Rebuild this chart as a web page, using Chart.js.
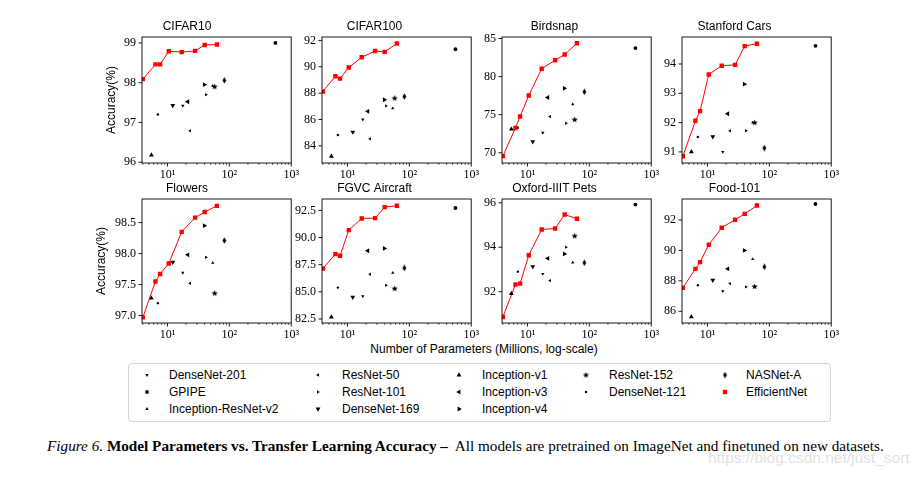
<!DOCTYPE html>
<html>
<head>
<meta charset="utf-8">
<script src="https://cdn.jsdelivr.net/npm/chart.js@4.4.1/dist/chart.umd.min.js"></script>
<style>
  body { margin: 0; width: 923px; height: 477px; background: #fff; position: relative; overflow: hidden; font-family: "Liberation Sans", Arial, sans-serif; }
  canvas.panel { position: absolute; }
  #xlabel { position: absolute; left: 0; width: 968px; top: 342px; text-align: center; font-size: 12px; color: #000; }
  #legend { position: absolute; left: 128px; top: 363px; width: 701px; height: 57px; border: 1px solid #d4d4d4; border-radius: 4px; }
  .lg-mark { position: absolute; }
  .lg-text { position: absolute; font-size: 12px; line-height: 14px; color: #000; white-space: nowrap; }
  #caption { position: absolute; left: 47px; top: 437px; font-family: "Liberation Serif", "Times New Roman", serif; font-size: 13px; color: #000; white-space: nowrap; }
  #caption b { font-weight: bold; }
  #mark { position: absolute; left: 708px; top: 449px; font-size: 15.5px; color: #e2e2e2; white-space: nowrap; }
</style>
</head>
<body>
<div id="xlabel">Number of Parameters (Millions, log-scale)</div>
<div id="legend"></div>
<div id="caption"><i>Figure 6.</i> <b>Model Parameters vs. Transfer Learning Accuracy –</b>&nbsp; All models are pretrained on ImageNet and finetuned on new datasets.</div>
<div id="mark">https://blog.csdn.net/just_sort</div>
<script>
// models (legend order) and their parameter counts in millions
const models = ["DenseNet-201", "GPIPE", "Inception-ResNet-v2", "ResNet-50", "ResNet-101", "DenseNet-169",
                "Inception-v1", "Inception-v3", "Inception-v4", "ResNet-152", "DenseNet-121", "NASNet-A"];
const modelParams = [17.7, 556, 54, 23.2, 42, 12.2, 5.5, 21.3, 39.5, 58, 7, 83];
const effParams = [4.0, 6.4, 7.6, 10.5, 17, 28, 40, 63];

const datasetNames = ["CIFAR10", "CIFAR100", "Birdsnap", "Stanford Cars", "Flowers", "FGVC Aircraft", "Oxford-IIIT Pets", "Food-101"];

// accuracy per model, same order as models
const accCifar10  = [97.42, 99.0, 97.92, 96.79, 97.7, 97.43, 96.18, 97.52, 97.95, 97.9, 97.2, 98.06];
const accCifar100 = [86.0, 91.33, 86.85, 84.54, 87.03, 85.05, 83.2, 86.62, 87.5, 87.62, 84.82, 87.74];
const accBirdsnap = [72.63, 83.75, 76.37, 74.76, 73.87, 71.47, 73.1, 77.26, 78.46, 74.36, 73.3, 78.0];
const accCars     = [91.0, 94.62, 92.0, 91.72, 91.72, 91.52, 91.0, 92.3, 93.31, 92.0, 91.51, 91.13];
const accFlowers  = [97.69, null, 97.85, 97.52, 97.94, 97.86, 97.28, 97.98, 98.45, 97.36, 97.2, 98.21];
const accAircraft = [84.59, 92.72, 86.75, 86.62, 85.6, 84.5, 82.68, 88.78, 89.0, 85.3, 85.39, 87.2];
const accPets     = [92.8, 95.92, 93.31, 92.5, 94.0, 93.13, 91.91, 93.5, 93.7, 94.51, 92.9, 93.3];
const accFood     = [87.32, 93.05, 89.43, 87.82, 87.6, 88.04, 85.63, 88.79, 90.0, 87.63, 87.71, 88.92];

// EfficientNet B0..B7
const effCifar10  = [98.09, 98.46, 98.46, 98.79, 98.77, 98.80, 98.95, 98.96];
const effCifar100 = [88.13, 89.28, 89.1, 89.95, 90.72, 91.2, 91.13, 91.77];
const effBirdsnap = [69.56, 73.25, 74.76, 77.52, 81.04, 82.15, 82.9, 84.38];
const effCars     = [90.85, 92.06, 92.39, 93.64, 93.94, 93.97, 94.61, 94.69];
const effFlowers  = [96.97, 97.55, 97.67, 97.84, 98.35, 98.58, 98.67, 98.77];
const effAircraft = [87.15, 88.47, 88.32, 90.68, 91.76, 91.79, 92.8, 92.93];
const effPets     = [90.86, 92.32, 92.36, 93.64, 94.8, 94.84, 95.47, 95.28];
const effFood     = [87.54, 88.79, 89.23, 90.37, 91.49, 92.02, 92.4, 92.95];

// tick labels
const xMajorTicks = [10, 100, 1000];
const xMajorLabels = ["10¹", "10²", "10³"];
const yTicksCifar10 = [96, 97, 98, 99];
const yTicksCifar100 = [84, 86, 88, 90, 92];
const yTicksBirdsnap = [70, 75, 80, 85];
const yTicksCars = [91, 92, 93, 94];
const yTicksFlowers = [97.0, 97.5, 98.0, 98.5];
const yTicksAircraft = [82.5, 85.0, 87.5, 90.0, 92.5];
const yTicksPets = [92, 94, 96];
const yTicksFood = [86, 88, 90, 92];

const xMin = 3.88, xMax = 1000;
let xTickValues = [];
for (let e = 0; e < 3; e++) {
  for (let m = 1; m < 10; m++) {
    const v = m * Math.pow(10, e);
    if (v >= xMin) xTickValues.push(v);
  }
}
xTickValues.push(1000);

// marker shapes
function starCanvas() {
  const c = document.createElement("canvas");
  c.width = 7; c.height = 7;
  const g = c.getContext("2d");
  g.fillStyle = "#000";
  g.beginPath();
  for (let k = 0; k < 10; k++) {
    const r = k % 2 ? 1.4 : 3.3;
    const a = -Math.PI / 2 + k * Math.PI / 5;
    g.lineTo(3.5 + r * Math.cos(a), 3.7 + r * Math.sin(a));
  }
  g.closePath();
  g.fill();
  return c;
}
function diamondCanvas() {
  const c = document.createElement("canvas");
  c.width = 5; c.height = 7;
  const g = c.getContext("2d");
  g.fillStyle = "#000";
  g.beginPath();
  g.moveTo(2.5, 0.2); g.lineTo(4.4, 3.5); g.lineTo(2.5, 6.8); g.lineTo(0.6, 3.5);
  g.closePath();
  g.fill();
  return c;
}
const star = starCanvas(), diamond = diamondCanvas();

const markers = [
  {style: "triangle", rot: 180, r: 1.9},   // DenseNet-201
  {style: "circle", rot: 0, r: 1.9},       // GPIPE
  {style: "triangle", rot: 0, r: 1.9},     // Inception-ResNet-v2
  {style: "triangle", rot: -90, r: 1.9},   // ResNet-50
  {style: "triangle", rot: 90, r: 1.9},    // ResNet-101
  {style: "triangle", rot: 180, r: 2.8},   // DenseNet-169
  {style: "triangle", rot: 0, r: 2.8},     // Inception-v1
  {style: "triangle", rot: -90, r: 2.8},   // Inception-v3
  {style: "triangle", rot: 90, r: 2.8},    // Inception-v4
  {style: star, rot: 0, r: 3},             // ResNet-152
  {style: "circle", rot: 0, r: 1.2},       // DenseNet-121
  {style: diamond, rot: 0, r: 3}           // NASNet-A
];
const effMarker = {style: "rect", rot: 0, r: 3.1};
const effColor = "#ff0000";

const boxW = 150;
const panels = [
  {name: datasetNames[0], acc: accCifar10, eff: effCifar10, yTicks: yTicksCifar10, yMin: 95.98, yMax: 99.15, dec: 0, left: 142, top: 37, h: 126, yTitleX: 112},
  {name: datasetNames[1], acc: accCifar100, eff: effCifar100, yTicks: yTicksCifar100, yMin: 82.7, yMax: 92.26, dec: 0, left: 322, top: 37, h: 126},
  {name: datasetNames[2], acc: accBirdsnap, eff: effBirdsnap, yTicks: yTicksBirdsnap, yMin: 68.66, yMax: 85.2, dec: 0, left: 502, top: 37, h: 126},
  {name: datasetNames[3], acc: accCars, eff: effCars, yTicks: yTicksCars, yMin: 90.62, yMax: 94.92, dec: 0, left: 682, top: 37, h: 126},
  {name: datasetNames[4], acc: accFlowers, eff: effFlowers, yTicks: yTicksFlowers, yMin: 96.88, yMax: 98.88, dec: 1, left: 142, top: 199, h: 124, yTitleX: 102},
  {name: datasetNames[5], acc: accAircraft, eff: effAircraft, yTicks: yTicksAircraft, yMin: 82.13, yMax: 93.55, dec: 1, left: 322, top: 199, h: 124},
  {name: datasetNames[6], acc: accPets, eff: effPets, yTicks: yTicksPets, yMin: 90.59, yMax: 96.17, dec: 0, left: 502, top: 199, h: 124},
  {name: datasetNames[7], acc: accFood, eff: effFood, yTicks: yTicksFood, yMin: 85.23, yMax: 93.38, dec: 0, left: 682, top: 199, h: 124}
];

// box around the axes and outward tick marks
const framePlugin = {
  id: "frame",
  afterDraw(chart) {
    const {ctx, chartArea: a} = chart;
    const x = chart.scales.x, y = chart.scales.y;
    ctx.save();
    ctx.strokeStyle = "#000";
    ctx.lineWidth = 0.9;
    ctx.strokeRect(a.left, a.top, a.right - a.left, a.bottom - a.top);
    x.ticks.forEach(t => {
      const px = x.getPixelForValue(t.value);
      const major = xMajorTicks.includes(t.value);
      ctx.lineWidth = major ? 0.9 : 0.6;
      ctx.beginPath();
      ctx.moveTo(px, a.bottom);
      ctx.lineTo(px, a.bottom + (major ? 3.5 : 2));
      ctx.stroke();
    });
    ctx.lineWidth = 0.9;
    y.ticks.forEach(t => {
      const py = y.getPixelForValue(t.value);
      ctx.beginPath();
      ctx.moveTo(a.left, py);
      ctx.lineTo(a.left - 3.5, py);
      ctx.stroke();
    });
    ctx.restore();
  }
};

const padT = 22, padB = 24, padR = 12;

panels.forEach((p, i) => {
  const firstCol = i % 4 === 0;
  const padL = firstCol ? 60 : 45;
  const cv = document.createElement("canvas");
  cv.className = "panel";
  cv.width = boxW + padL + padR;
  cv.height = p.h + padT + padB;
  cv.style.left = (p.left - padL) + "px";
  cv.style.top = (p.top - padT) + "px";
  document.body.appendChild(cv);

  const datasets = models.map((m, k) => ({
    label: m,
    data: p.acc[k] == null ? [] : [{x: modelParams[k], y: p.acc[k]}],
    pointStyle: markers[k].style,
    pointRotation: markers[k].rot,
    pointRadius: markers[k].r,
    backgroundColor: "#000",
    borderColor: "#000",
    pointBorderWidth: 0,
    showLine: false
  }));
  datasets.push({
    label: "EfficientNet",
    data: effParams.map((x, k) => ({x: x, y: p.eff[k]})),
    showLine: true,
    borderColor: effColor,
    backgroundColor: effColor,
    borderWidth: 1,
    pointStyle: effMarker.style,
    pointRadius: effMarker.r,
    pointBorderWidth: 0
  });

  new Chart(cv, {
    type: "scatter",
    data: {datasets: datasets},
    options: {
      responsive: false,
      animation: false,
      devicePixelRatio: 1,
      layout: {padding: {right: padR}},
      plugins: {
        legend: {display: false},
        tooltip: {enabled: false},
        title: {
          display: true,
          text: p.name,
          color: "#000",
          font: {family: "Liberation Sans", size: 12, weight: "normal"},
          padding: {top: 4.6, bottom: 3}
        }
      },
      scales: {
        x: {
          type: "logarithmic",
          min: xMin,
          max: xMax,
          grid: {display: false, drawTicks: false},
          border: {display: false},
          afterBuildTicks: s => { s.ticks = xTickValues.map(v => ({value: v})); },
          afterFit: s => { s.height = padB; },
          ticks: {
            autoSkip: false,
            maxRotation: 0,
            padding: 5,
            color: "#000",
            font: {family: "Liberation Serif", size: 12},
            callback: v => {
              const k = xMajorTicks.indexOf(v);
              return k < 0 ? "" : xMajorLabels[k];
            }
          }
        },
        y: {
          min: p.yMin,
          max: p.yMax,
          grid: {display: false, drawTicks: false},
          border: {display: false},
          afterBuildTicks: s => { s.ticks = p.yTicks.map(v => ({value: v})); },
          afterFit: s => { s.width = padL; },
          title: {
            display: firstCol,
            text: "Accuracy(%)",
            color: "#000",
            font: {family: "Liberation Sans", size: 12},
            padding: {top: firstCol ? p.yTitleX - (p.left - padL) - 7.2 : 0, bottom: 0}
          },
          ticks: {
            padding: 6,
            color: "#000",
            font: {family: "Liberation Serif", size: 12},
            callback: v => v.toFixed(p.dec)
          }
        }
      }
    },
    plugins: [framePlugin]
  });
});

// legend: matplotlib ncol=5, filled column by column (3,3,3,2,2)
const legend = document.getElementById("legend");
const legendItems = models.map((m, k) => ({label: m, mk: markers[k], color: "#000"}));
legendItems.push({label: "EfficientNet", mk: effMarker, color: effColor});
const colSizes = [3, 3, 3, 2, 2];
const colMarkX = [147, 318, 459, 586, 725];
const colTextX = [169, 342, 482, 609, 746];
const rowY = [375, 392, 409];
let idx = 0;
colSizes.forEach((n, col) => {
  for (let row = 0; row < n; row++, idx++) {
    const it = legendItems[idx];
    const c = document.createElement("canvas");
    c.className = "lg-mark";
    c.width = 14; c.height = 14;
    c.style.left = (colMarkX[col] - 7 - 129) + "px";
    c.style.top = (rowY[row] - 7 - 364) + "px";
    const g = c.getContext("2d");
    g.fillStyle = it.color;
    g.strokeStyle = it.color;
    Chart.helpers.drawPoint(g, {pointStyle: it.mk.style, rotation: it.mk.rot, radius: it.mk.r, borderWidth: 0}, 7, 7);
    legend.appendChild(c);
    const t = document.createElement("div");
    t.className = "lg-text";
    t.textContent = it.label;
    t.style.left = (colTextX[col] - 129) + "px";
    t.style.top = (rowY[row] - 7 - 364) + "px";
    legend.appendChild(t);
  }
});

// fit caption to its width in the figure
const cap = document.getElementById("caption");
const capW = cap.offsetWidth;
cap.style.fontSize = (13 * 837 / capW).toFixed(2) + "px";
</script>
</body>
</html>
